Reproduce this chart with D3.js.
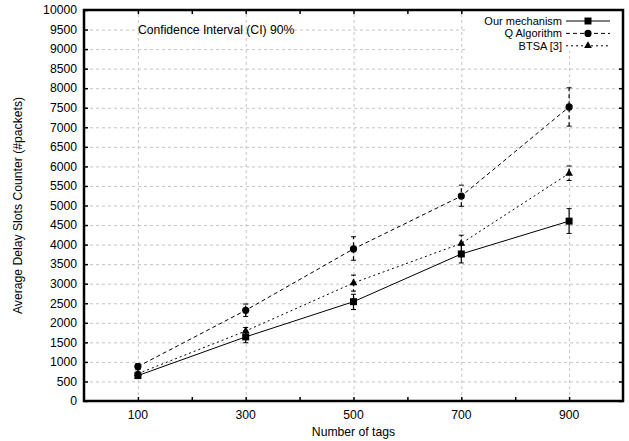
<!DOCTYPE html>
<html>
<head>
<meta charset="utf-8">
<script src="https://cdn.jsdelivr.net/npm/d3@7"></script>
<style>
	body { margin: 0; background: #fff; }
	text { font-family: "Liberation Sans", Arial, sans-serif; fill: #000; }
</style>
</head>
<body>
<script>
// x positions (number of tags)
const tags = [100, 300, 500, 700, 900];
const yTicks = d3.range(0, 10001, 500);

// series means and 90% CI bounds
const ourMean = [650, 1640, 2540, 3760, 4600];
const ourLow = [610, 1490, 2340, 3530, 4285];
const ourHigh = [690, 1790, 2730, 3990, 4920];

const qMean = [880, 2320, 3890, 5240, 7520];
const qLow = [810, 2160, 3600, 4980, 7030];
const qHigh = [960, 2480, 4200, 5520, 8010];

const btsaMean = [700, 1790, 3020, 4030, 5820];
const btsaLow = [650, 1700, 2810, 3820, 5640];
const btsaHigh = [760, 1880, 3220, 4240, 6010];

const seriesNames = ["Our mechanism", "Q Algorithm", "BTSA [3]"];

document.addEventListener("DOMContentLoaded", () => {
	const width = 629;
	const height = 441;
	const margin = { left: 84, right: 6, top: 10, bottom: 40 };
	const fs = 12.2;

	const svg = d3.select("body")
		.append("svg")
		.attr("width", width)
		.attr("height", height);

	const xScale = d3.scaleLinear()
		.domain([0, 1000])
		.range([margin.left, width - margin.right]);
	const yScale = d3.scaleLinear()
		.domain([0, 10000])
		.range([height - margin.bottom, margin.top]);

	const x0 = xScale.range()[0], x1 = xScale.range()[1];
	const y0 = yScale.range()[0], y1 = yScale.range()[1];

	// grid
	const grid = svg.append("g")
		.attr("stroke", "#c4c4c4")
		.attr("stroke-width", 1)
		.attr("stroke-dasharray", "3,3");
	grid.selectAll("line.h")
		.data(yTicks.slice(1, -1))
		.enter()
		.append("line")
		.attr("x1", x0).attr("x2", x1)
		.attr("y1", (d) => yScale(d) + 0.5).attr("y2", (d) => yScale(d) + 0.5);
	grid.selectAll("line.v")
		.data(tags)
		.enter()
		.append("line")
		.attr("x1", (d) => xScale(d) + 0.5).attr("x2", (d) => xScale(d) + 0.5)
		.attr("y1", y0).attr("y2", y1);

	// axes, ticks inward
	svg.append("g")
		.attr("transform", "translate(" + x0 + ",0)")
		.call(d3.axisRight(yScale).tickValues(yTicks).tickSize(4).tickFormat(""));
	svg.append("g")
		.attr("transform", "translate(" + x1 + ",0)")
		.call(d3.axisLeft(yScale).tickValues(yTicks).tickSize(4).tickFormat(""));
	svg.append("g")
		.attr("transform", "translate(0," + y0 + ")")
		.call(d3.axisTop(xScale).tickValues(d3.range(100, 1000, 100)).tickSize(4).tickFormat(""));
	svg.append("g")
		.attr("transform", "translate(0," + y1 + ")")
		.call(d3.axisBottom(xScale).tickValues(d3.range(100, 1000, 100)).tickSize(4).tickFormat(""));
	svg.selectAll(".domain").remove();
	svg.selectAll(".tick line").attr("stroke", "#000").attr("stroke-width", 1.5);

	// tick labels
	svg.append("g")
		.selectAll("text")
		.data(yTicks)
		.enter()
		.append("text")
		.attr("x", x0 - 7)
		.attr("y", (d) => yScale(d))
		.attr("dy", "0.35em")
		.attr("text-anchor", "end")
		.attr("font-size", fs)
		.text((d) => d);
	svg.append("g")
		.selectAll("text")
		.data(tags)
		.enter()
		.append("text")
		.attr("x", (d) => xScale(d))
		.attr("y", y0 + 18)
		.attr("text-anchor", "middle")
		.attr("font-size", fs)
		.text((d) => d);

	// axis titles
	svg.append("text")
		.attr("x", (x0 + x1) / 2)
		.attr("y", height - 5)
		.attr("text-anchor", "middle")
		.attr("font-size", fs)
		.text("Number of tags");
	svg.append("text")
		.attr("transform", "translate(22," + (y0 + y1) / 2 + ") rotate(-90)")
		.attr("text-anchor", "middle")
		.attr("font-size", fs)
		.text("Average Delay Slots Counter (#packets)");

	svg.append("text")
		.attr("x", xScale(100))
		.attr("y", yScale(9500))
		.attr("dy", "0.35em")
		.attr("font-size", fs)
		.text("Confidence Interval (CI) 90%");

	// legend background hides grid
	svg.append("rect")
		.attr("x", 468).attr("y", y1 + 1)
		.attr("width", x1 - 469).attr("height", 40)
		.attr("fill", "#fff");

	const series = [
		{ mean: ourMean, low: ourLow, high: ourHigh, dash: null, marker: "square" },
		{ mean: qMean, low: qLow, high: qHigh, dash: "4,3", marker: "circle" },
		{ mean: btsaMean, low: btsaLow, high: btsaHigh, dash: "2,3", marker: "triangle" }
	];

	const line = d3.line()
		.x((d) => xScale(d[0]))
		.y((d) => yScale(d[1]));

	function drawMarker(g, type, cx, cy) {
		if (type === "square") {
			g.append("rect")
				.attr("x", cx - 3.5).attr("y", cy - 3.5)
				.attr("width", 7).attr("height", 7)
				.attr("fill", "#000");
		} else if (type === "circle") {
			g.append("circle")
				.attr("cx", cx).attr("cy", cy).attr("r", 3.6)
				.attr("fill", "#000");
		} else {
			g.append("path")
				.attr("d", d3.symbol(d3.symbolTriangle, 26)())
				.attr("transform", "translate(" + cx + "," + cy + ")")
				.attr("fill", "#000");
		}
	}

	series.forEach((s, i) => {
		const g = svg.append("g");
		const pts = tags.map((t, j) => [t, s.mean[j]]);
		g.append("path")
			.attr("d", line(pts))
			.attr("fill", "none")
			.attr("stroke", "#000")
			.attr("stroke-width", 1)
			.attr("stroke-dasharray", s.dash);
		tags.forEach((t, j) => {
			const cx = xScale(t);
			const yl = yScale(s.low[j]);
			const yh = yScale(s.high[j]);
			g.append("line")
				.attr("x1", cx).attr("x2", cx)
				.attr("y1", yl).attr("y2", yh)
				.attr("stroke", "#000")
				.attr("stroke-width", 1.2)
				.attr("stroke-dasharray", s.dash);
			[yl, yh].forEach((yy) => {
				g.append("line")
					.attr("x1", cx - 2.5).attr("x2", cx + 2.5)
					.attr("y1", yy).attr("y2", yy)
					.attr("stroke", "#000")
					.attr("stroke-width", 1);
			});
			drawMarker(g, s.marker, cx, yScale(s.mean[j]));
		});

		// legend entry
		const ly = 21 + i * 12.4;
		svg.append("text")
			.attr("x", 562)
			.attr("y", ly)
			.attr("dy", "0.35em")
			.attr("text-anchor", "end")
			.attr("font-size", 11)
			.text(seriesNames[i]);
		svg.append("line")
			.attr("x1", 566).attr("x2", 610)
			.attr("y1", ly).attr("y2", ly)
			.attr("stroke", "#000")
			.attr("stroke-width", 1)
			.attr("stroke-dasharray", s.dash);
		drawMarker(svg.append("g"), s.marker, 588, ly);
	});

	// frame
	svg.append("rect")
		.attr("x", x0).attr("y", y1)
		.attr("width", x1 - x0).attr("height", y0 - y1)
		.attr("fill", "none")
		.attr("stroke", "#000")
		.attr("stroke-width", 2.5);
});
</script>
</body>
</html>
